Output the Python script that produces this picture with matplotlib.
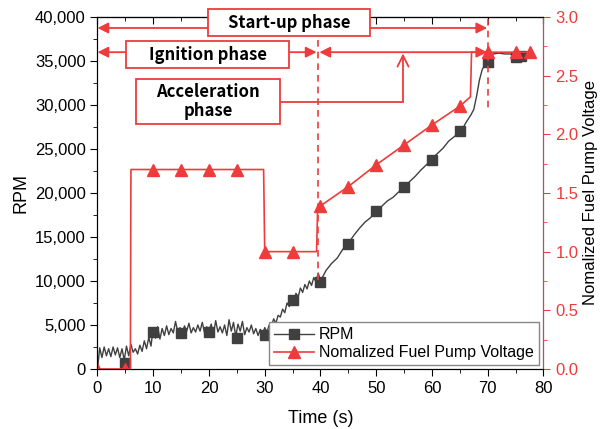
import matplotlib
matplotlib.use('Agg')
import matplotlib.pyplot as plt
from matplotlib.ticker import MultipleLocator, FuncFormatter
from matplotlib.lines import Line2D
from matplotlib.patches import Rectangle

plt.rcParams['font.family'] = ['Liberation Sans', 'DejaVu Sans']

RED = '#ee3b3b'
GRAY = '#404040'

# RPM trace (hand)
rpm_t = [0.0, 0.4, 0.8, 1.2, 1.6, 2.0, 2.4, 2.8, 3.2, 3.6, 4.0, 4.4, 4.8, 5.2, 5.6,
         6.0, 6.4, 6.8, 7.2, 7.6, 8.0, 8.4, 8.8, 9.2, 9.6, 10.0, 10.4, 10.8, 11.2, 11.6,
         12.0, 12.4, 12.8, 13.2, 13.6, 14.0, 14.4, 14.8, 15.2, 15.6, 16.0, 16.4, 16.8,
         17.2, 17.6, 18.0, 18.4, 18.8, 19.2, 19.6, 20.0, 20.4, 20.8, 21.2, 21.6, 22.0,
         22.4, 22.8, 23.2, 23.6, 24.0, 24.4, 24.8, 25.2, 25.6, 26.0, 26.4, 26.8, 27.2,
         27.6, 28.0, 28.4, 28.8, 29.2, 29.6, 30.0, 30.4, 30.8, 31.2, 31.6, 32.0, 32.4,
         32.8, 33.2, 33.6, 34.0, 34.4, 34.8, 35.2, 35.6, 36.0, 36.4, 36.8, 37.2, 37.6,
         38.0, 38.4, 38.8, 39.2, 39.6, 40.0, 41, 42, 43, 44, 45, 46, 47, 48, 49, 50,
         51, 52, 53, 54, 55, 56, 57, 58, 59, 60, 61, 62, 63, 64, 65, 65.5, 66, 66.5,
         67, 67.5, 68, 68.5, 69, 69.5, 70, 70.5, 71, 72, 73, 74, 75, 76, 77]
rpm = [0, 2400, 1300, 2500, 1500, 2300, 1400, 2500, 1600, 2400, 1300, 2300, 1000, 2600, 1500,
       2800, 1900, 2300, 1700, 2700, 2000, 3200, 2300, 3600, 2600, 4700, 3500, 4800, 3400, 4600,
       3800, 4900, 3900, 4600, 4100, 5400, 4200, 4700, 4000, 4900, 4300, 5200, 4100,
       4700, 4200, 5000, 4300, 5300, 4100, 4800, 4400, 5100, 3900, 5500, 4200, 4800,
       4100, 5000, 3800, 5600, 4300, 5300, 3700, 5100, 4300, 5400, 3900, 4700, 4200,
       5000, 4000, 4600, 3800, 4500, 3900, 4700, 4200, 5000, 4800, 5700, 5200, 6100,
       5900, 6800, 6400, 7500, 7100, 7900, 7600, 8600, 8200, 9200, 8700, 9600, 9100,
       10000, 9500, 10400, 9900, 10900, 10000, 11200, 12000, 12600, 13600, 14300, 15200, 16000, 16700, 17200, 18000,
       18500, 19100, 19500, 20100, 20700, 21300, 21900, 22600, 23200, 23900, 24500, 25100, 25900, 26400, 27000, 27300, 27900, 28400,
       28900, 29500, 31000, 32800, 34000, 34600, 35000, 35500, 35800, 35900, 35800, 35800, 35600, 35700, 35800]

rpm_mark_t = [5, 10, 15, 20, 25, 30, 35, 40, 45, 50, 55, 60, 65, 70, 75, 76]
rpm_mark = [650, 4240, 4050, 4170, 3560, 3900, 7850, 9900, 14200, 18000, 20650, 23800, 27000, 34850, 35500, 35600]

# normalized fuel pump voltage
volt_t = [0, 5.9, 6.0, 29.8, 30.0, 39.3, 39.5, 40, 45, 50, 55, 60, 65, 66.9, 67.1, 77.5]
volt = [0, 0, 1.7, 1.7, 1.0, 1.0, 1.39, 1.39, 1.555, 1.74, 1.91, 2.08, 2.24, 2.32, 2.70, 2.70]
volt_mark_t = [0, 5, 10, 15, 20, 25, 30, 35, 40, 45, 50, 55, 60, 65, 70, 75, 77.5]
volt_mark = [0, 0, 1.7, 1.7, 1.7, 1.7, 1.0, 1.0, 1.39, 1.555, 1.74, 1.91, 2.08, 2.24, 2.70, 2.70, 2.70]

fig = plt.figure(figsize=(6.01, 4.29), dpi=100)
ax = fig.add_axes([0.1622, 0.1399, 0.7421, 0.8205])
ax2 = ax.twinx()

ax.plot(rpm_t, rpm, color=GRAY, lw=1.0)
ax.plot(rpm_mark_t, rpm_mark, ls='none', marker='s', ms=7, color=GRAY)
ax2.plot(volt_t, volt, color=RED, lw=1.2)
ax2.plot(volt_mark_t, volt_mark, ls='none', marker='^', ms=8, color=RED)

ax.set_xlim(0, 80)
ax.set_ylim(0, 40000)
ax2.set_ylim(0, 3.0)

ax.xaxis.set_major_locator(MultipleLocator(10))
ax.xaxis.set_minor_locator(MultipleLocator(5))
ax.yaxis.set_major_locator(MultipleLocator(5000))
ax.yaxis.set_minor_locator(MultipleLocator(2500))
ax.yaxis.set_major_formatter(FuncFormatter(lambda v, p: f'{int(v):,}'))
ax.tick_params(which='major', direction='out', length=5, labelsize=12)
ax.tick_params(which='minor', direction='out', length=3)

top = ax.secondary_xaxis('top')
top.xaxis.set_major_locator(MultipleLocator(10))
top.xaxis.set_minor_locator(MultipleLocator(5))
top.tick_params(which='major', direction='in', length=5, labeltop=False)
top.tick_params(which='minor', direction='in', length=3)

ax2.yaxis.set_major_locator(MultipleLocator(0.5))
ax2.yaxis.set_minor_locator(MultipleLocator(0.25))
ax2.yaxis.set_major_formatter(FuncFormatter(lambda v, p: f'{v:.1f}'))
ax2.tick_params(which='major', direction='out', length=5, labelsize=12, colors=RED)
ax2.tick_params(which='minor', direction='out', length=3, colors=RED)
ax2.spines['right'].set_color(RED)

ax.set_xlabel('Time (s)', fontsize=13, labelpad=10)
ax.set_ylabel('RPM', fontsize=13, labelpad=4)
ax2.set_ylabel('Nomalized Fuel Pump Voltage', fontsize=12, labelpad=3)

# phase annotations (in RPM coordinates)
tr = ax.transData
afont = dict(family=['Noto Sans CJK KR', 'DejaVu Sans'], weight='bold', fontsize=12)
arr = dict(arrowstyle='<|-|>', color=RED, lw=1.3, mutation_scale=16, shrinkA=0, shrinkB=0)

ax2.annotate('', xy=(69.9, 38750), xytext=(0, 38750), xycoords=tr, textcoords=tr,
             arrowprops=arr, annotation_clip=False)
ax2.annotate('', xy=(39.3, 36000), xytext=(0, 36000), xycoords=tr, textcoords=tr,
             arrowprops=arr, annotation_clip=False)
ax2.annotate('', xy=(69.9, 36000), xytext=(39.8, 36000), xycoords=tr, textcoords=tr,
             arrowprops=arr, annotation_clip=False)

ax2.plot([39.55, 39.55], [37400, 10100], color=RED, lw=1.2, ls=(0, (4, 3)), transform=tr, clip_on=False)
ax2.plot([70.0, 70.0], [39800, 29400], color=RED, lw=1.2, ls=(0, (4, 3)), transform=tr, clip_on=False)

# connector from acceleration box
ax2.plot([32.8, 54.8], [30380, 30380], color=RED, lw=1.3, transform=tr, clip_on=False)
ax2.annotate('', xy=(54.8, 35850), xytext=(54.8, 30380), xycoords=tr, textcoords=tr,
             arrowprops=dict(arrowstyle='->', color=RED, lw=1.3, mutation_scale=20,
                             shrinkA=0, shrinkB=0), annotation_clip=False)

boxes = [((19.9, 37840), 28.9, 3060, 'Start-up phase'),
         ((5.1, 34200), 29.3, 3070, 'Ignition phase'),
         ((6.9, 27840), 25.9, 5110, 'Acceleration\nphase')]
for (x0, y0), w, h, label in boxes:
    ax2.add_patch(Rectangle((x0, y0), w, h, transform=tr, facecolor='white',
                            edgecolor=RED, lw=1.3, clip_on=False, zorder=5))
    ax2.text(x0 + w / 2, y0 + h / 2, label, transform=tr, ha='center', va='center',
             linespacing=1.1, zorder=6, **afont)

handles = [Line2D([], [], color=GRAY, lw=1.0, marker='s', ms=7),
           Line2D([], [], color=RED, lw=1.2, marker='^', ms=8)]
leg = ax2.legend(handles, ['RPM', 'Nomalized Fuel Pump Voltage'], loc='lower right',
                 bbox_to_anchor=(0.989, 0.011), borderaxespad=0, fontsize=11.5,
                 fancybox=False, framealpha=1, edgecolor='#888888', handlelength=2.5,
                 handletextpad=0.3, labelspacing=0.2, borderpad=0.3)
leg.set_zorder(10)

fig.savefig('out.png', dpi=100)
